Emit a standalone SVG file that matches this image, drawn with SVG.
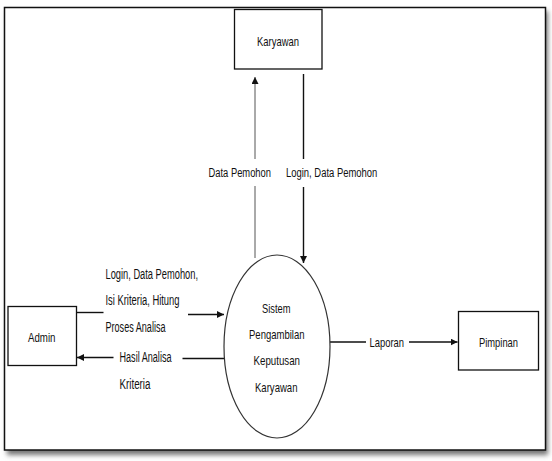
<svg xmlns="http://www.w3.org/2000/svg" width="552" height="461" viewBox="0 0 552 461">
<style>
.t{font-family:"Liberation Sans",Arial,sans-serif;font-size:13.5px;fill:#111;}
.s{font-size:14px;}
.box{fill:#fff;stroke:#111;stroke-width:1.3;}
.ln{stroke:#111;stroke-width:1.4;fill:none;}
</style>
<defs>
<marker id="ah" viewBox="0 0 10 10" refX="10" refY="5" markerWidth="7" markerHeight="7" markerUnits="userSpaceOnUse" orient="auto">
<path d="M0,0 L10,5 L0,10 z" fill="#111"/>
</marker>
<filter id="sh" x="-5%" y="-5%" width="110%" height="110%">
<feGaussianBlur stdDeviation="2.5"/>
</filter>
</defs>
<rect x="0" y="0" width="552" height="461" fill="#fff"/>
<rect x="7" y="11" width="541" height="444" fill="#777" filter="url(#sh)"/>
<rect x="4.5" y="7.5" width="541" height="442.5" fill="#fff" stroke="#111" stroke-width="1.5"/>

<g id="connectors">
<line x1="255" y1="258" x2="255" y2="186" stroke="#555" stroke-width="1"/>
<line x1="255" y1="159" x2="255" y2="77" stroke="#555" stroke-width="1" marker-end="url(#ah)"/>
<line x1="303.5" y1="74" x2="303.5" y2="159" class="ln"/>
<line x1="303.5" y1="187" x2="303.5" y2="263" class="ln" marker-end="url(#ah)"/>
<line x1="76.5" y1="312.5" x2="103.5" y2="312.5" class="ln"/>
<line x1="188" y1="314.5" x2="224" y2="314.5" class="ln" marker-end="url(#ah)"/>
<line x1="224" y1="358.5" x2="182.5" y2="358.5" class="ln"/>
<line x1="113.5" y1="357.5" x2="77" y2="357.5" class="ln" marker-end="url(#ah)"/>
<line x1="330" y1="342" x2="366" y2="342" class="ln"/>
<line x1="409" y1="342" x2="457.5" y2="342" class="ln" marker-end="url(#ah)"/>
<text class="t" transform="translate(208.5,176.5) scale(0.695,1)">Data Pemohon</text>
<text class="t" transform="translate(286,176.5) scale(0.7,1)">Login, Data Pemohon</text>
<text class="t s" x="105.5" y="279" textLength="92.5" lengthAdjust="spacingAndGlyphs">Login, Data Pemohon,</text>
<text class="t s" x="105.5" y="305" textLength="74" lengthAdjust="spacingAndGlyphs">Isi Kriteria, Hitung</text>
<text class="t s" x="105.5" y="331.5" textLength="60" lengthAdjust="spacingAndGlyphs">Proses Analisa</text>
<text class="t s" x="119.5" y="362" textLength="52" lengthAdjust="spacingAndGlyphs">Hasil Analisa</text>
<text class="t s" x="119.5" y="388.5" textLength="31" lengthAdjust="spacingAndGlyphs">Kriteria</text>
<text class="t" x="369.5" y="346.5" textLength="34.5" lengthAdjust="spacingAndGlyphs">Laporan</text>
</g>

<g id="karyawan">
<rect class="box" x="234.5" y="9.5" width="87.5" height="59.5"/>
<text class="t" x="257" y="45.5" textLength="42" lengthAdjust="spacingAndGlyphs">Karyawan</text>
</g>

<g id="admin">
<rect class="box" x="8" y="306.5" width="68.5" height="59"/>
<text class="t" x="28" y="342" textLength="27.5" lengthAdjust="spacingAndGlyphs">Admin</text>
</g>

<g id="pimpinan">
<rect class="box" x="458.5" y="311.5" width="80" height="58.5"/>
<text class="t" x="479" y="347" textLength="39" lengthAdjust="spacingAndGlyphs">Pimpinan</text>
</g>

<g id="sistem">
<ellipse cx="277" cy="346.5" rx="53" ry="91.5" fill="#fff" stroke="#333" stroke-width="1.2"/>
<text class="t" x="262" y="313" textLength="28.5" lengthAdjust="spacingAndGlyphs">Sistem</text>
<text class="t" x="249" y="338.5" textLength="55.5" lengthAdjust="spacingAndGlyphs">Pengambilan</text>
<text class="t" x="253.5" y="365" textLength="46.5" lengthAdjust="spacingAndGlyphs">Keputusan</text>
<text class="t" x="255" y="392" textLength="42.5" lengthAdjust="spacingAndGlyphs">Karyawan</text>
</g>
</svg>
